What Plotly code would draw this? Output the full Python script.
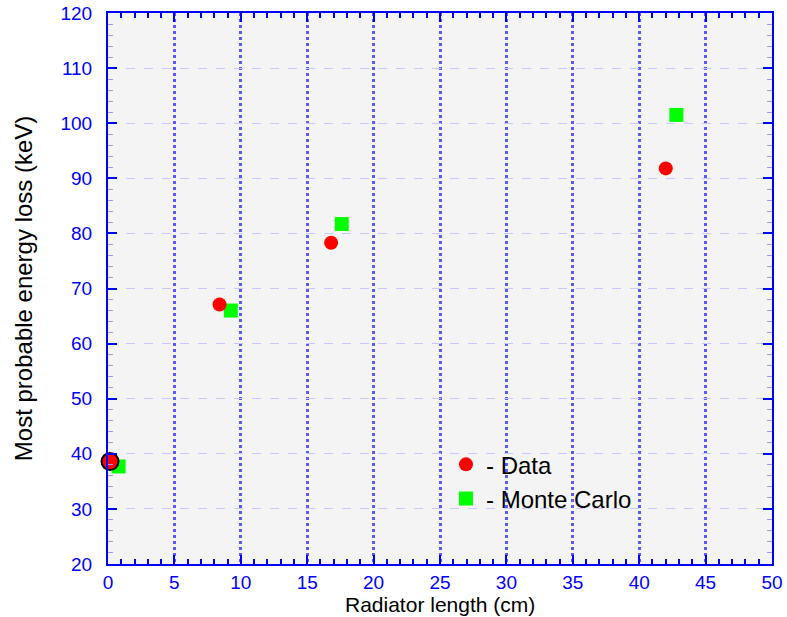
import plotly.graph_objects as go

# Data
data_x = [0.15, 8.4, 16.8, 42.0]
data_y = [38.6, 67.1, 78.3, 91.8]
mc_x = [0.8, 9.25, 17.6, 42.8]
mc_y = [37.7, 66.0, 81.7, 101.5]

x_ticks = [0, 5, 10, 15, 20, 25, 30, 35, 40, 45, 50]
y_ticks = [20, 30, 40, 50, 60, 70, 80, 90, 100, 110, 120]

BLUE = "#0000ff"
FONT = "Liberation Sans"
fig = go.Figure()

fig.add_trace(go.Scatter(
    x=mc_x, y=mc_y, mode="markers", name="- Monte Carlo", cliponaxis=False,
    marker=dict(symbol="square", size=14, color="#00ff00", line=dict(width=0)),
))
fig.add_trace(go.Scatter(
    x=data_x[1:], y=data_y[1:], mode="markers", name="- Data", cliponaxis=False,
    marker=dict(symbol="circle", size=14, color="#ff0000", line=dict(width=0)),
))
fig.add_trace(go.Scatter(
    x=data_x[:1], y=data_y[:1], mode="markers", showlegend=False, cliponaxis=False,
    marker=dict(symbol="circle", size=17, color="#ff0000", line=dict(width=2, color="black")),
))

axis_common = dict(
    showline=True, linecolor=BLUE, linewidth=2, mirror="allticks",
    ticks="inside", ticklen=9, tickwidth=2, tickcolor=BLUE,
    tickfont=dict(family=FONT, size=19, color=BLUE),
    zeroline=False, automargin=False,
)

fig.update_xaxes(
    range=[0, 50], tickvals=x_ticks,
    showgrid=True, gridcolor="#5a5aff", gridwidth=2.5, griddash="dot",
    minor=dict(dtick=1, tick0=0, ticks="inside", ticklen=5, tickwidth=2, tickcolor=BLUE, showgrid=False),
    ticklabelstandoff=0,
    **axis_common,
)
fig.update_yaxes(
    range=[20, 120], tickvals=y_ticks,
    showgrid=True, gridcolor="#c8c8ff", gridwidth=1, griddash="dash",
    minor=dict(dtick=2, tick0=20, ticks="inside", ticklen=5, tickwidth=1, tickcolor="#9a9aff", showgrid=False),
    ticklabelstandoff=10,
    **axis_common,
)

fig.add_annotation(
    text="Radiator length (cm)", xref="paper", yref="paper", x=0.5, y=-0.0744,
    xanchor="center", yanchor="middle", showarrow=False,
    font=dict(family=FONT, size=21, color="black"),
)
fig.add_annotation(
    text="Most probable energy loss (keV)", xref="paper", yref="paper", x=-0.127, y=0.5,
    xanchor="center", yanchor="middle", textangle=-90, showarrow=False,
    font=dict(family=FONT, size=24, color="black"),
)

fig.update_layout(
    width=787, height=617,
    margin=dict(l=108, r=15, t=13, b=53),
    paper_bgcolor="white", plot_bgcolor="#f4f4f4",
    showlegend=True,
    legend=dict(
        x=0.509, y=0.221, xanchor="left", yanchor="top",
        bgcolor="rgba(0,0,0,0)", borderwidth=0,
        font=dict(family=FONT, size=24, color="black"),
        traceorder="reversed", tracegroupgap=0,
    ),
)

fig.write_html("out.html")
